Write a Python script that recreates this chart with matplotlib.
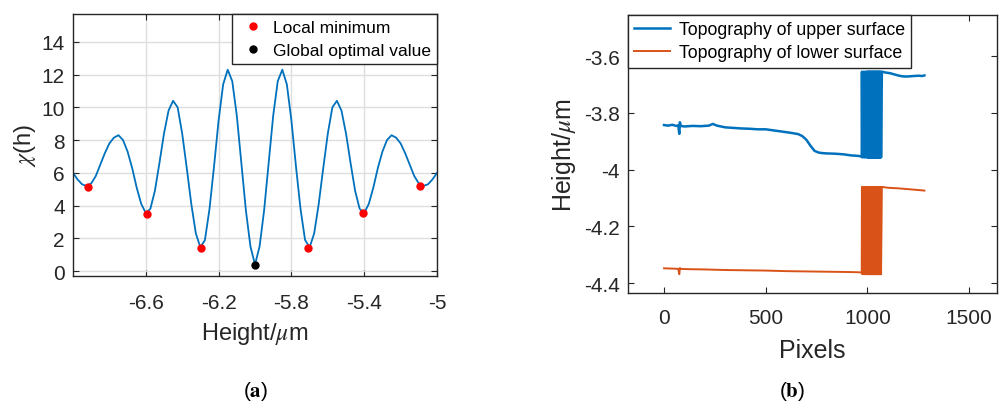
import numpy as np
import matplotlib
matplotlib.use('Agg')
import matplotlib.pyplot as plt
from matplotlib.ticker import FormatStrFormatter

plt.rcParams['font.family'] = ['Liberation Sans', 'DejaVu Sans']
plt.rcParams['mathtext.fontset'] = 'stix'
plt.rcParams['axes.unicode_minus'] = False

# ---------- panel (a): chi(h) vs height ----------
height = [-7.000, -6.975, -6.950, -6.925, -6.900, -6.875, -6.850, -6.825, -6.800, -6.775,
          -6.750, -6.725, -6.700, -6.675, -6.650, -6.625, -6.600, -6.575, -6.550, -6.525,
          -6.500, -6.475, -6.450, -6.425, -6.400, -6.375, -6.350, -6.325, -6.300, -6.275,
          -6.250, -6.225, -6.200, -6.175, -6.150, -6.125, -6.100, -6.075, -6.050, -6.025,
          -6.000, -5.975, -5.950, -5.925, -5.900, -5.875, -5.850, -5.825, -5.800, -5.775,
          -5.750, -5.725, -5.700, -5.675, -5.650, -5.625, -5.600, -5.575, -5.550, -5.525,
          -5.500, -5.475, -5.450, -5.425, -5.400, -5.375, -5.350, -5.325, -5.300, -5.275,
          -5.250, -5.225, -5.200, -5.175, -5.150, -5.125, -5.100, -5.075, -5.050, -5.025,
          -5.000]
chi = [6.0, 5.6, 5.3, 5.2, 5.35, 5.8, 6.5, 7.2, 7.8, 8.15,
       8.3, 8.0, 7.3, 6.3, 5.1, 4.1, 3.55, 3.8, 4.9, 6.6,
       8.4, 9.8, 10.4, 10.0, 8.4, 6.3, 4.1, 2.3, 1.45, 1.9,
       3.8, 6.4, 9.2, 11.4, 12.3, 11.6, 9.5, 6.6, 3.7, 1.5,
       0.4, 1.5, 3.7, 6.6, 9.5, 11.6, 12.3, 11.4, 9.2, 6.4,
       3.8, 1.9, 1.45, 2.3, 4.1, 6.3, 8.4, 10.0, 10.4, 9.8,
       8.4, 6.6, 4.9, 3.8, 3.55, 4.1, 5.1, 6.3, 7.3, 8.0,
       8.3, 8.15, 7.8, 7.2, 6.5, 5.8, 5.35, 5.2, 5.3, 5.6,
       6.0]
local_min_x = [-6.92, -6.595, -6.297, -5.71, -5.408, -5.095]
local_min_y = [5.15, 3.5, 1.4, 1.4, 3.55, 5.2]
global_x = [-6.0]
global_y = [0.35]

# ---------- panel (b): topography profiles ----------
up_x = [0, 20, 40, 60, 70, 75, 78, 82, 100, 140, 180, 220, 240, 260, 300, 340, 380,
        420, 460, 500, 540, 580, 620, 660, 680, 700, 720, 740, 760, 780, 800, 840,
        880, 920, 960, 972]
up_y = [-3.843, -3.845, -3.842, -3.846, -3.844, -3.874, -3.833, -3.846, -3.848,
        -3.846, -3.847, -3.845, -3.839, -3.845, -3.851, -3.853, -3.855, -3.856,
        -3.858, -3.858, -3.862, -3.866, -3.870, -3.875, -3.882, -3.895, -3.916,
        -3.934, -3.940, -3.942, -3.943, -3.944, -3.946, -3.950, -3.952, -3.955]
osc_x = [973, 975, 982, 984, 990, 992, 997, 999, 1001, 1003, 1005, 1007, 1009, 1011,
         1013, 1015, 1017, 1019, 1021, 1023, 1025, 1027, 1029, 1031, 1033, 1035,
         1037, 1039, 1041, 1043, 1045, 1047, 1049, 1051, 1053, 1055, 1057, 1059,
         1061, 1063, 1065, 1067, 1071]
up_osc_y = [-3.655, -3.957, -3.655, -3.957, -3.655, -3.957, -3.655, -3.957, -3.655,
            -3.957, -3.655, -3.957, -3.655, -3.957, -3.655, -3.957, -3.655, -3.957,
            -3.655, -3.957, -3.655, -3.957, -3.655, -3.957, -3.655, -3.957, -3.655,
            -3.957, -3.655, -3.957, -3.655, -3.957, -3.655, -3.957, -3.655, -3.957,
            -3.655, -3.957, -3.655, -3.957, -3.655, -3.957, -3.655]
up_end_x = [1090, 1110, 1130, 1150, 1170, 1190, 1210, 1230, 1250, 1270, 1280]
up_end_y = [-3.658, -3.660, -3.664, -3.668, -3.671, -3.672, -3.671, -3.670, -3.669,
            -3.670, -3.668]

lo_x = [0, 40, 70, 75, 78, 82, 120, 200, 300, 400, 500, 600, 700, 800, 900, 960, 972]
lo_y = [-4.348, -4.349, -4.350, -4.369, -4.347, -4.350, -4.351, -4.352, -4.354,
        -4.355, -4.356, -4.358, -4.359, -4.360, -4.361, -4.362, -4.363]
lo_osc_y = [-4.061, -4.369, -4.061, -4.369, -4.061, -4.369, -4.061, -4.369, -4.061,
            -4.369, -4.061, -4.369, -4.061, -4.369, -4.061, -4.369, -4.061, -4.369,
            -4.061, -4.369, -4.061, -4.369, -4.061, -4.369, -4.061, -4.369, -4.061,
            -4.369, -4.061, -4.369, -4.061, -4.369, -4.061, -4.369, -4.061, -4.369,
            -4.061, -4.369, -4.061, -4.369, -4.061, -4.369, -4.061]
lo_end_x = [1100, 1150, 1200, 1250, 1280]
lo_end_y = [-4.064, -4.066, -4.069, -4.072, -4.074]

blue = '#0072BD'
orange = '#D95319'
spine_col = '#262626'

fig = plt.figure(figsize=(10.01, 4.06), dpi=100)
ax1 = fig.add_axes([0.0729, 0.3177, 0.3637, 0.6453])
ax2 = fig.add_axes([0.6274, 0.2759, 0.3686, 0.6847])

for ax in (ax1, ax2):
    ax.tick_params(direction='in', length=4, width=0.8, top=True, right=True,
                   labelsize=15, colors=spine_col)
    ax.tick_params(axis='y', pad=6)
    for s in ax.spines.values():
        s.set_color(spine_col)
        s.set_linewidth(1.0)
ax1.tick_params(axis='x', pad=12)
ax2.tick_params(axis='x', pad=11)

# panel (a)
ax1.plot(height, chi, color=blue, lw=1.3)
ax1.plot(local_min_x, local_min_y, 'o', color='red', ms=5, ls='none', label='Local minimum')
ax1.plot(global_x, global_y, 'o', color='black', ms=5, ls='none', label='Global optimal value')
ax1.set_xlim(-7, -5)
ax1.set_ylim(-0.3, 15.7)
ax1.set_xticks([-6.6, -6.2, -5.8, -5.4, -5])
ax1.set_yticks(np.arange(0, 15, 2))
ax1.xaxis.set_major_formatter(FormatStrFormatter('%g'))
ax1.grid(True, color='#dedede', lw=1.0)
ax1.set_axisbelow(True)
ax1.set_xlabel(r'Height/$\mu$m', fontsize=17, color=spine_col, labelpad=6)
ax1.set_ylabel(r'$\chi$(h)', fontsize=17, color=spine_col, labelpad=2)
leg1 = ax1.legend(loc='upper right', borderaxespad=0, fancybox=False, edgecolor=spine_col,
                  framealpha=1, fontsize=12.5, handletextpad=0.3, borderpad=0.35,
                  labelspacing=0.45, handlelength=1.7)
leg1.get_frame().set_linewidth(1.0)

# panel (b)
ax2.plot(up_x + osc_x + up_end_x, up_y + up_osc_y + up_end_y, color=blue, lw=1.8,
         label='Topography of upper surface')
ax2.plot(lo_x + osc_x + lo_end_x, lo_y + lo_osc_y + lo_end_y, color=orange, lw=1.4,
         label='Topography of lower surface')
ax2.set_xlim(-177, 1637)
ax2.set_ylim(-4.435, -3.455)
ax2.set_xticks([0, 500, 1000, 1500])
ax2.set_yticks([-4.4, -4.2, -4.0, -3.8, -3.6])
ax2.yaxis.set_major_formatter(FormatStrFormatter('%g'))
ax2.set_xlabel('Pixels', fontsize=18, color=spine_col, labelpad=8)
ax2.set_ylabel(r'Height/$\mu$m', fontsize=18, color=spine_col)
leg2 = ax2.legend(loc='upper left', borderaxespad=0, fancybox=False, edgecolor=spine_col,
                  framealpha=1, fontsize=12.8, handletextpad=0.5, borderpad=0.35,
                  labelspacing=0.35, handlelength=2.0)
leg2.get_frame().set_linewidth(1.0)

fig.text(0.255, 0.035, r'($\mathbf{a}$)', ha='center', va='center', fontsize=15)
fig.text(0.791, 0.035, r'($\mathbf{b}$)', ha='center', va='center', fontsize=15)

fig.savefig('out.png', dpi=100)
